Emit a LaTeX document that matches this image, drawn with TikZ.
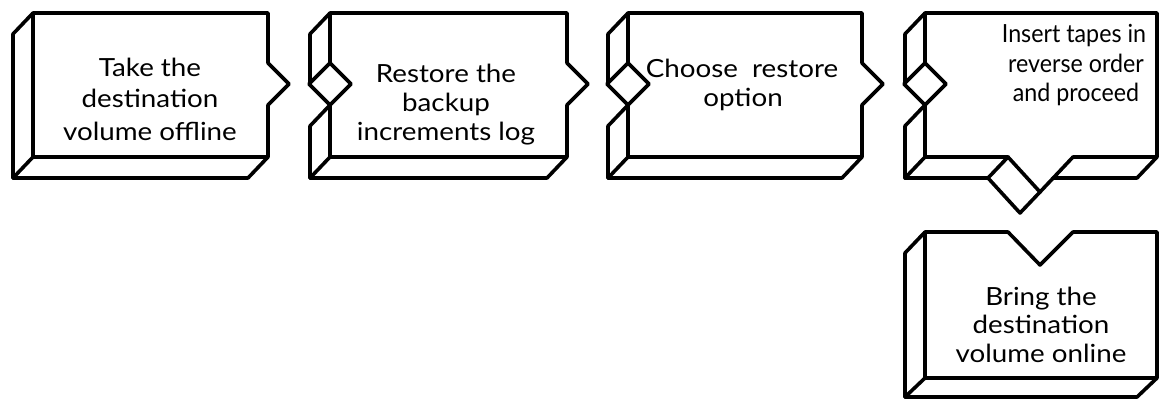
\documentclass[tikz,border=0pt]{standalone}
\usepackage{fontspec}
\setmainfont{Lato}[FakeStretch=1.11]
\newfontfamily\narrowlato{Lato}[FakeStretch=0.93]
\begin{document}
\begin{tikzpicture}[x=1pt,y=-1pt,
  edge/.style={line width=3.6pt,line join=round,line cap=round},
  lbl/.style={font=\fontsize{25}{30}\selectfont,inner sep=0pt,anchor=base},
  nlbl/.style={lbl,font=\narrowlato\fontsize{25}{30}\selectfont}]
\useasboundingbox (0,0) rectangle (1161,401);

% ---- step 1: plain left side, pointer on the right
\draw[edge] (33,13) -- (268,13) -- (268,63) -- (289,84) -- (268,105)
  -- (268,157) -- (33,157) -- cycle;
\draw[edge] (33,13) -- (13,34) -- (13,178) -- (33,157);
\draw[edge] (13,178) -- (248,178) -- (268,157);

% ---- step 2: diamond on the left, pointer on the right
\draw[edge] (330,63) -- (330,13) -- (567,13) -- (567,63) -- (588,84)
  -- (567,105) -- (567,157) -- (330,157) -- (330,105);
\draw[edge] (330,63) -- (351,84) -- (330,105) -- (309,84) -- cycle;
\draw[edge] (330,13) -- (310,34) -- (310,84);
\draw[edge] (330,105) -- (310,126) -- (310,178) -- (330,157);
\draw[edge] (310,178) -- (547,178) -- (567,157);

% ---- step 3
\draw[edge] (628,63) -- (628,13) -- (862,13) -- (862,63) -- (883,84)
  -- (862,105) -- (862,157) -- (628,157) -- (628,105);
\draw[edge] (628,63) -- (649,84) -- (628,105) -- (607,84) -- cycle;
\draw[edge] (628,13) -- (608,34) -- (608,84);
\draw[edge] (628,105) -- (608,126) -- (608,178) -- (628,157);
\draw[edge] (608,178) -- (842,178) -- (862,157);

% ---- step 4: diamond on the left, pointer and diamond at the bottom
\draw[edge] (925,63) -- (925,13) -- (1157,13) -- (1157,157) -- (1073,157)
  -- (1040,192) -- (1008,157) -- (925,157) -- (925,105);
\draw[edge] (925,63) -- (946,84) -- (925,105) -- (904,84) -- cycle;
\draw[edge] (925,13) -- (905,34) -- (905,84);
\draw[edge] (925,105) -- (905,126) -- (905,178) -- (925,157);
\draw[edge] (905,178) -- (988,178);
\draw[edge] (1008,157) -- (988,178) -- (1020,213) -- (1040,192);
\draw[edge] (1053,178) -- (1137,178) -- (1157,157);

% ---- step 5: notch at the top
\draw[edge] (925,232) -- (1008,232) -- (1040,265) -- (1073,232) -- (1157,232)
  -- (1157,378) -- (925,378) -- cycle;
\draw[edge] (925,232) -- (905,253) -- (905,397) -- (925,378);
\draw[edge] (905,397) -- (1137,397) -- (1157,378);

% ---- labels
\node[lbl] (s1a) at (150,77)  {Take the};
\node[lbl] (s1b) at (150,108) {destination};
\node[lbl] (s1c) at (150,140) {volume offline};

\node[lbl] (s2a) at (446,83)  {Restore the};
\node[lbl] (s2b) at (446,112) {backup};
\node[lbl] (s2c) at (446,140) {increments log};

\node[lbl] (s3a) at (742,78)  {Choose\ \ restore};
\node[lbl] (s3b) at (743,107) {option};

\node[nlbl] (s4a) at (1074,43)  {Insert tapes in};
\node[nlbl] (s4b) at (1076,73)  {reverse order};
\node[nlbl] (s4c) at (1076,102) {and proceed};

\node[lbl] (s5a) at (1041,305) {Bring the};
\node[lbl] (s5b) at (1041,333) {destination};
\node[lbl] (s5c) at (1041,362) {volume online};
\end{tikzpicture}
\end{document}
